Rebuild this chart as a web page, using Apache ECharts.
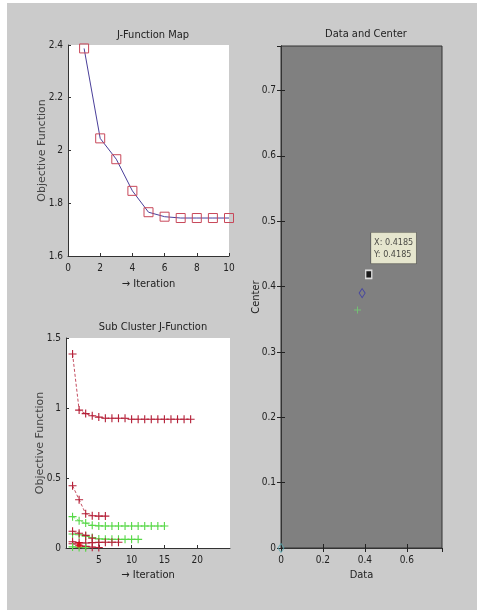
<!DOCTYPE html>
<html>
<head>
<meta charset="utf-8">
<script src="https://cdn.jsdelivr.net/npm/echarts@6/dist/echarts.min.js"></script>
<style>
html,body{margin:0;padding:0;background:#fff;}
#chart{width:477px;height:610px;}
</style>
</head>
<body>
<div id="chart"></div>
<script>
// ---- data ----
const jIterations = [1, 2, 3, 4, 5, 6, 7, 8, 9, 10];
const jValues = [2.387, 2.046, 1.967, 1.847, 1.766, 1.749, 1.744, 1.744, 1.744, 1.744];

const sub1 = [1.386, 0.985, 0.96, 0.945, 0.935, 0.927, 0.927, 0.927, 0.927, 0.92, 0.92, 0.92, 0.92, 0.92, 0.92, 0.92, 0.92, 0.92, 0.92];
const sub2 = [0.445, 0.345, 0.245, 0.23, 0.228, 0.228];
const sub3 = [0.224, 0.195, 0.178, 0.162, 0.158, 0.157, 0.157, 0.157, 0.157, 0.157, 0.157, 0.157, 0.157, 0.157, 0.157];
const sub4 = [0.1, 0.095, 0.085, 0.075, 0.065, 0.063, 0.062, 0.062, 0.062, 0.062, 0.062];
const sub5 = [0.12, 0.105, 0.09, 0.07];
const sub6 = [0.045, 0.038, 0.036, 0.038, 0.04, 0.041, 0.041, 0.041];
const sub7 = [0.03, 0.02, 0.012, 0.006, 0.004];
const sub8 = [0.008, 0.004, 0.002];
const subMarked = [[2, 0.022]];

const dataPoints = [[0.365, 0.364]];
const centerPoints = [[0.387, 0.39]];
const selectedPoint = [[0.4185, 0.4185]];
const originPoints = [[0, 0]];

const titles = ['J-Function Map', 'Sub Cluster J-Function', 'Data and Center'];

// ---- helpers ----
const NARROW = '"Liberation Sans Narrow", "DejaVu Sans Condensed", "Arial Narrow", "Liberation Sans", sans-serif';
const WIDE = '"DejaVu Sans", sans-serif';
const PLUS = 'path://M0,4.3H10V5.7H0Z M4.3,0H5.7V10H4.3Z';
const RED = '#b52038';
const GREEN = '#58d848';
const idx = arr => arr.map((v, i) => [i + 1, v]);

function subSeries(arr, color) {
  return {
    type: 'line', xAxisIndex: 1, yAxisIndex: 1, data: idx(arr),
    symbol: PLUS, symbolSize: 8, showAllSymbol: true,
    lineStyle: {color: color, width: 1, type: [3, 2], opacity: 0.8},
    itemStyle: {color: color},
    animation: false, z: 3
  };
}

const labelStyle = {color: '#222', fontSize: 10, fontFamily: NARROW};
const axisLineStyle = {lineStyle: {color: '#333', width: 1}};
const titleStyle = {fontSize: 11, fontWeight: 'normal', fontFamily: NARROW, color: '#222'};

const chart = echarts.init(document.getElementById('chart'));
chart.setOption({
  animation: false,
  graphic: [{
    type: 'rect', z: -10, silent: true,
    shape: {x: 7, y: 3, width: 477, height: 610},
    style: {fill: '#cbcbcb'}
  }],
  title: [
    {text: titles[0], left: 148, top: 25, textAlign: 'center', textStyle: titleStyle},
    {text: titles[1], left: 148, top: 317, textAlign: 'center', textStyle: titleStyle},
    {text: titles[2], left: 361, top: 24, textAlign: 'center', textStyle: titleStyle}
  ],
  grid: [
    {left: 68, top: 45, width: 161, height: 211, show: true, backgroundColor: '#fff', borderWidth: 0},
    {left: 66, top: 338, width: 164, height: 210, show: true, backgroundColor: '#fff', borderWidth: 0},
    {left: 281, top: 46, width: 161, height: 502, show: true, backgroundColor: '#808080', borderColor: '#333', borderWidth: 1}
  ],
  xAxis: [
    {gridIndex: 0, type: 'value', min: 0, max: 10, interval: 2,
     name: '→ Iteration', nameLocation: 'middle', nameGap: 23, nameMoveOverlap: false,
     nameTextStyle: {color: '#222', fontSize: 11, fontFamily: NARROW},
     axisLine: axisLineStyle, axisTick: {inside: true, length: 3, lineStyle: {color: '#333'}},
     axisLabel: Object.assign({margin: 7}, labelStyle), splitLine: {show: false}},
    {gridIndex: 1, type: 'value', min: 0, max: 25, interval: 5,
     name: '→ Iteration', nameLocation: 'middle', nameGap: 22, nameMoveOverlap: false,
     nameTextStyle: {color: '#222', fontSize: 11, fontFamily: NARROW},
     axisLine: axisLineStyle, axisTick: {inside: true, length: 3, lineStyle: {color: '#333'}},
     axisLabel: Object.assign({margin: 7, showMinLabel: false, showMaxLabel: false}, labelStyle), splitLine: {show: false}},
    {gridIndex: 2, type: 'value', min: 0, max: 0.768, interval: 0.2,
     name: 'Data', nameLocation: 'middle', nameGap: 22, nameMoveOverlap: false,
     nameTextStyle: {color: '#222', fontSize: 11, fontFamily: NARROW},
     axisLine: axisLineStyle, axisTick: {inside: true, length: 4, lineStyle: {color: '#222'}},
     axisLabel: Object.assign({margin: 7, showMaxLabel: false}, labelStyle), splitLine: {show: false}},
    {gridIndex: 2, type: 'value', position: 'top', min: 0, max: 0.768, interval: 0.2,
     axisLine: axisLineStyle, axisTick: {inside: true, length: 4, lineStyle: {color: '#222'}},
     axisLabel: {show: false}, splitLine: {show: false}}
  ],
  yAxis: [
    {gridIndex: 0, type: 'value', min: 1.6, max: 2.4, interval: 0.2,
     name: 'Objective Function', nameLocation: 'middle', nameGap: 20, nameMoveOverlap: false,
     nameTextStyle: {color: '#444', fontSize: 11, fontFamily: WIDE},
     axisLine: {show: true, lineStyle: {color: '#333'}}, axisTick: {show: true, inside: true, length: 3, lineStyle: {color: '#333'}},
     axisLabel: Object.assign({margin: 5}, labelStyle), splitLine: {show: false}},
    {gridIndex: 1, type: 'value', min: 0, max: 1.5, interval: 0.5,
     name: 'Objective Function', nameLocation: 'middle', nameGap: 20, nameMoveOverlap: false,
     nameTextStyle: {color: '#444', fontSize: 11, fontFamily: WIDE},
     axisLine: {show: true, lineStyle: {color: '#333'}}, axisTick: {show: true, inside: true, length: 3, lineStyle: {color: '#333'}},
     axisLabel: Object.assign({margin: 5}, labelStyle), splitLine: {show: false}},
    {gridIndex: 2, type: 'value', min: 0, max: 0.768, interval: 0.1,
     name: 'Center', nameLocation: 'middle', nameGap: 19, nameMoveOverlap: false,
     nameTextStyle: {color: '#222', fontSize: 11, fontFamily: NARROW},
     axisLine: {show: true, lineStyle: {color: '#333'}}, axisTick: {show: true, inside: true, length: 4, lineStyle: {color: '#222'}},
     axisLabel: Object.assign({margin: 5, showMaxLabel: false}, labelStyle), splitLine: {show: false}},
    {gridIndex: 2, type: 'value', position: 'right', min: 0, max: 0.768, interval: 0.1,
     axisLine: {show: true, lineStyle: {color: '#333'}}, axisTick: {show: true, inside: true, length: 4, lineStyle: {color: '#222'}},
     axisLabel: {show: false}, splitLine: {show: false}}
  ],
  series: [
    {type: 'line', xAxisIndex: 0, yAxisIndex: 0,
     data: jIterations.map((x, i) => [x, jValues[i]]),
     symbol: 'rect', symbolSize: 9,
     lineStyle: {color: '#4a3f9a', width: 1},
     itemStyle: {color: 'rgba(0,0,0,0)', borderColor: '#c8485a', borderWidth: 1},
     z: 3},
    subSeries(sub1, RED),
    subSeries(sub2, RED),
    subSeries(sub3, GREEN),
    subSeries(sub4, GREEN),
    subSeries(sub5, RED),
    subSeries(sub6, RED),
    subSeries(sub7, RED),
    subSeries(sub8, GREEN),
    {type: 'scatter', xAxisIndex: 1, yAxisIndex: 1, data: subMarked,
     symbol: 'rect', symbolSize: 5, itemStyle: {color: '#e00010'}, z: 4},
    {type: 'scatter', xAxisIndex: 2, yAxisIndex: 2, data: dataPoints,
     symbol: PLUS, symbolSize: 7, itemStyle: {color: '#70d070'}},
    {type: 'scatter', xAxisIndex: 2, yAxisIndex: 2, data: centerPoints,
     symbol: 'diamond', symbolSize: [6, 9],
     itemStyle: {color: 'rgba(0,0,0,0)', borderColor: '#3838a8', borderWidth: 1}},
    {type: 'scatter', xAxisIndex: 2, yAxisIndex: 2, data: originPoints,
     symbol: 'diamond', symbolSize: [6, 9],
     itemStyle: {color: 'rgba(0,0,0,0)', borderColor: '#5aa8b0', borderWidth: 1}, z: 5},
    {type: 'scatter', xAxisIndex: 2, yAxisIndex: 2, data: selectedPoint,
     symbol: 'rect', symbolSize: [6, 8],
     itemStyle: {color: '#000', borderColor: '#fff', borderWidth: 1.5},
     label: {show: true, position: [6, -37], align: 'left', verticalAlign: 'top',
       formatter: p => 'X: ' + p.value[0] + '\nY: ' + p.value[1],
       backgroundColor: '#ffffe1', borderColor: '#333', borderWidth: 0.5,
       padding: [4, 3, 3, 3], lineHeight: 12,
       color: '#222', fontSize: 9, fontFamily: NARROW}, z: 6}
  ]
});
</script>
</body>
</html>
